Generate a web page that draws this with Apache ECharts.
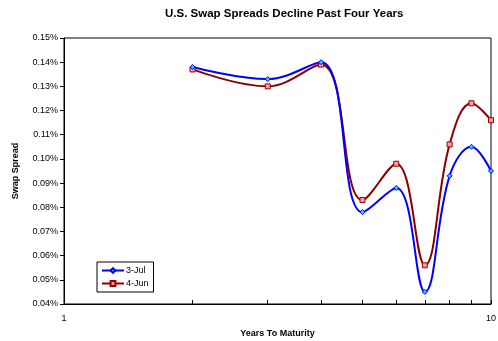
<!DOCTYPE html>
<html>
<head>
<meta charset="utf-8">
<script src="https://cdn.jsdelivr.net/npm/echarts@6/dist/echarts.min.js"></script>
<style>
  html, body { margin: 0; padding: 0; background: #fff; }
  #chart { width: 498px; height: 341px; }
</style>
</head>
<body>
<div id="chart"></div>
<script>
// Years to maturity and swap spreads (in percent)
const maturities = [2, 3, 4, 5, 6, 7, 8, 9, 10];
const spreadJul3 = [0.138, 0.133, 0.140, 0.078, 0.088, 0.045, 0.093, 0.105, 0.095];
const spreadJun4 = [0.137, 0.130, 0.139, 0.083, 0.098, 0.056, 0.106, 0.123, 0.116];
const xTickValues = [1, 2, 3, 4, 5, 6, 7, 8, 9, 10];
const xLabelValues = [1, 10];

const font = 'Liberation Sans, Arial, sans-serif';
const chart = echarts.init(document.getElementById('chart'), null, { renderer: 'canvas' });

const pairs = (vals) => maturities.map((m, i) => [m, vals[i]]);

chart.setOption({
  animation: false,
  backgroundColor: '#ffffff',
  title: {
    text: 'U.S. Swap Spreads Decline Past Four Years',
    left: 160,
    top: 3,
    textStyle: { fontFamily: font, fontSize: 11.5, fontWeight: 'bold', color: '#000' }
  },
  grid: {
    left: 64, right: 7, top: 38, bottom: 37,
    outerBoundsMode: 'none',
    containLabel: false,
    show: true, borderColor: '#000', borderWidth: 1, backgroundColor: 'transparent'
  },
  legend: {
    left: 97, top: 262,
    orient: 'vertical',
    padding: [4, 5, 4, 4],
    itemGap: 4,
    itemWidth: 22, itemHeight: 6,
    borderColor: '#000', borderWidth: 1,
    backgroundColor: '#fff',
    textStyle: { fontFamily: font, fontSize: 9, color: '#000', padding: [0, 0, 0, -3] },
    data: ['3-Jul', '4-Jun']
  },
  xAxis: {
    type: 'log',
    logBase: 10,
    min: 1, max: 10,
    name: 'Years To Maturity',
    nameLocation: 'middle',
    nameGap: 25,
    nameTextStyle: { fontFamily: font, fontSize: 9, fontWeight: 'bold', color: '#000' },
    axisLine: { show: true, lineStyle: { color: '#000', width: 1 } },
    axisTick: { show: true, inside: true, length: 4, customValues: xTickValues, lineStyle: { color: '#000' } },
    axisLabel: { customValues: xLabelValues, fontFamily: font, fontSize: 9, color: '#000', margin: 10 },
    splitLine: { show: false }
  },
  yAxis: {
    type: 'value',
    min: 0.04, max: 0.15, interval: 0.01,
    name: 'Swap Spread',
    nameLocation: 'middle',
    nameGap: 44,
    nameTextStyle: { fontFamily: font, fontSize: 9, fontWeight: 'bold', color: '#000' },
    axisLine: { show: true, lineStyle: { color: '#000', width: 1 } },
    axisTick: { show: true, inside: false, length: 4, lineStyle: { color: '#000' } },
    axisLabel: {
      fontFamily: font, fontSize: 9, color: '#000', margin: 6,
      formatter: (v) => v.toFixed(2) + '%'
    },
    splitLine: { show: false }
  },
  series: [
    {
      name: '3-Jul',
      type: 'line',
      smooth: 0.4,
      data: pairs(spreadJul3),
      symbol: 'diamond',
      symbolSize: 5,
      lineStyle: { color: '#0000ff', width: 2 },
      itemStyle: { color: '#33ccff', borderColor: '#0000ff', borderWidth: 1 },
      z: 3
    },
    {
      name: '4-Jun',
      type: 'line',
      smooth: 0.4,
      data: pairs(spreadJun4),
      symbol: 'rect',
      symbolSize: 5,
      lineStyle: { color: '#8b0000', width: 2 },
      itemStyle: { color: '#ff99aa', borderColor: '#990000', borderWidth: 1 },
      z: 2
    }
  ]
});
</script>
</body>
</html>
